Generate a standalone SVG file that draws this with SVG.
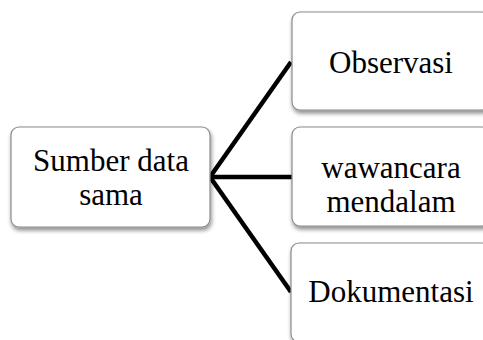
<svg xmlns="http://www.w3.org/2000/svg" width="483" height="340" viewBox="0 0 483 340">
<style>
.box{fill:#ffffff;stroke:#8a8a8a;stroke-width:1.2}
.t{font-family:"Liberation Serif","Times New Roman",serif;font-size:31px;fill:#000;text-anchor:middle}
.c{stroke:#000;stroke-width:4.5;fill:none;stroke-linecap:butt}
</style>
<defs>
<filter id="sh" x="-10%" y="-10%" width="125%" height="130%">
<feGaussianBlur in="SourceAlpha" stdDeviation="2"/>
<feOffset dx="1" dy="3" result="b"/>
<feComponentTransfer><feFuncA type="linear" slope="0.45"/></feComponentTransfer>
<feMerge><feMergeNode/><feMergeNode in="SourceGraphic"/></feMerge>
</filter>
</defs>
<rect width="483" height="340" fill="#ffffff"/>
<g id="connectors">
<line class="c" x1="210" y1="177" x2="291" y2="62"/>
<line class="c" x1="210" y1="177" x2="292" y2="177"/>
<line class="c" x1="210" y1="177" x2="291" y2="292"/>
</g>
<g id="node-sumber">
<rect class="box" x="11" y="127" width="199" height="100" rx="8" filter="url(#sh)"/>
<text class="t" x="111" y="171">Sumber data</text>
<text class="t" x="111" y="205">sama</text>
</g>
<g id="node-observasi">
<rect class="box" x="292" y="12" width="198" height="98" rx="8" filter="url(#sh)"/>
<text class="t" x="391" y="73">Observasi</text>
</g>
<g id="node-wawancara">
<rect class="box" x="292" y="127" width="198" height="99" rx="8" filter="url(#sh)"/>
<text class="t" x="391" y="178">wawancara</text>
<text class="t" x="391" y="212">mendalam</text>
</g>
<g id="node-dokumentasi">
<rect class="box" x="291" y="243" width="199" height="99" rx="8" filter="url(#sh)"/>
<text class="t" x="391" y="302">Dokumentasi</text>
</g>
</svg>
